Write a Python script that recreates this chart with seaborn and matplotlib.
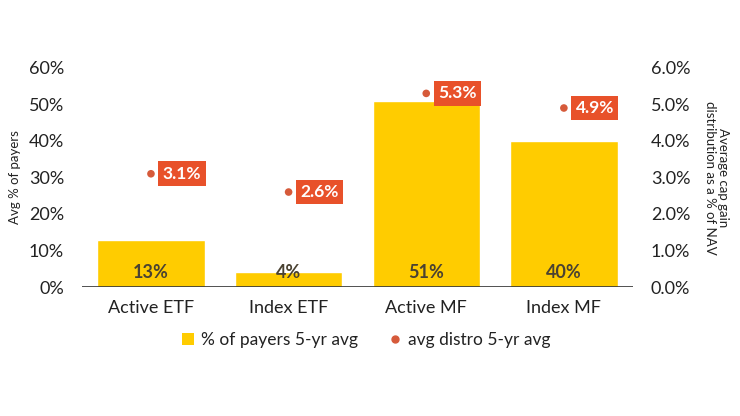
import numpy as np
import pandas as pd
import matplotlib
matplotlib.use("Agg")
from matplotlib import pyplot as plt
from matplotlib.lines import Line2D
from matplotlib.patches import Patch
import seaborn as sns

categories = ["Active ETF", "Index ETF", "Active MF", "Index MF"]
payers_pct = [13, 4, 51, 40]
distro_pct = [3.1, 2.6, 5.3, 4.9]
left_ticks = [0, 10, 20, 30, 40, 50, 60]
right_ticks = [0, 1, 2, 3, 4, 5, 6]

BAR = "#FFCC00"
DOT = "#D65A3A"
BOX = "#E8512A"
TXT = "#222222"

sns.set_style("white")
plt.rcParams["font.family"] = ["Lato", "DejaVu Sans"]

df = pd.DataFrame({"cat": categories, "payers": payers_pct, "distro": distro_pct})

fig = plt.figure(figsize=(7.4, 4.16), dpi=100)
ax = fig.add_axes([0.111, 0.31, 0.744, 0.527])

sns.barplot(data=df, x="cat", y="payers", color=BAR, width=0.78,
            saturation=1, ax=ax)
ax.set_xlim(-0.5, 3.5)
ax.set_ylim(0, 60)
ax.set_yticks(left_ticks)
ax.set_yticklabels([f"{t}%" for t in left_ticks])
ax.set_xlabel("")
ax.set_ylabel("Avg % of payers", fontsize=9.5, color=TXT, labelpad=6)
for i, v in enumerate(payers_pct):
    ax.text(i, 4.1, f"{v}%", ha="center", va="center", fontsize=13,
            fontweight="bold", color="#4A4232")

ax2 = ax.twinx()
sns.scatterplot(data=df, x="cat", y="distro", color=DOT, s=30,
                edgecolor="none", ax=ax2, zorder=3)
ax2.set_ylim(0, 6)
ax2.set_xlim(-0.5, 3.5)
ax2.set_yticks(right_ticks)
ax2.set_yticklabels([f"{t:.1f}%" for t in right_ticks])
ax2.set_ylabel("Average cap gain\ndistribution as a % of NAV", fontsize=9.5,
               color=TXT, rotation=-90, labelpad=28, linespacing=1.1)
for i, v in enumerate(distro_pct):
    ax2.annotate(f"{v}%", xy=(i, v), xytext=(8.5, 0), textcoords="offset points",
                 ha="left", va="center", fontsize=12.5, fontweight="bold",
                 color="white",
                 bbox=dict(boxstyle="square,pad=0.25", fc=BOX, ec="none"))

for a in (ax, ax2):
    for s in ["top", "left", "right", "bottom"]:
        a.spines[s].set_visible(False)
    a.tick_params(length=0, labelsize=13, colors=TXT)
ax.tick_params(axis="y", pad=13)
ax2.tick_params(axis="y", pad=13)
ax.tick_params(axis="x", pad=9)
ax.axhline(0, color="#333333", linewidth=1.2, zorder=5)

handles = [
    Patch(facecolor=BAR, edgecolor="none"),
    Line2D([], [], marker="o", color=DOT, linestyle="none", markersize=5),
]
fig.legend(handles, ["% of payers 5-yr avg", "avg distro 5-yr avg"],
           loc="center", bbox_to_anchor=(0.495, 0.183), ncol=2, frameon=False,
           fontsize=12.5, handlelength=0.7, handleheight=0.7, handletextpad=0.4,
           columnspacing=1.8, labelcolor=TXT)

fig.savefig("out.png", dpi=100)
